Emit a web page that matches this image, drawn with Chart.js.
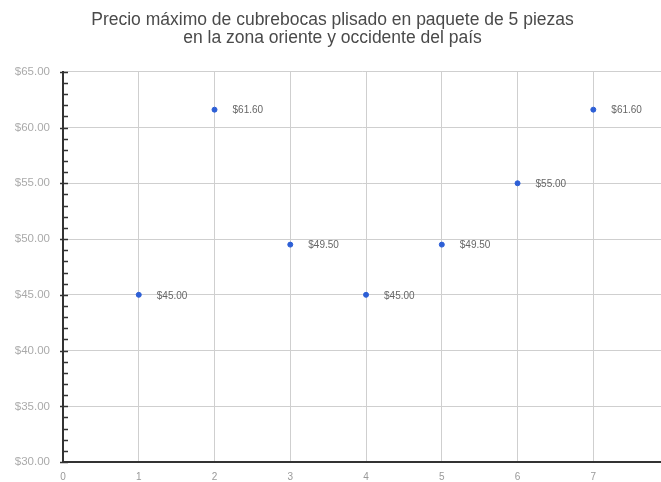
<!DOCTYPE html>
<html>
<head>
<meta charset="utf-8">
<script src="https://cdn.jsdelivr.net/npm/chart.js@4/dist/chart.umd.min.js"></script>
<style>
html,body{margin:0;padding:0;background:#fff;overflow:hidden;}
#wrap{width:661px;height:482px;overflow:hidden;}
</style>
</head>
<body>
<div id="wrap"><canvas id="c" width="665" height="482"></canvas></div>
<script>
const titleLines = ["Precio máximo de cubrebocas plisado en paquete de 5 piezas", "en la zona oriente y occidente del país"];
const xValues = [1, 2, 3, 4, 5, 6, 7];
const prices = [45.00, 61.60, 49.50, 45.00, 49.50, 55.00, 61.60];
const priceLabels = ["$45.00", "$61.60", "$49.50", "$45.00", "$49.50", "$55.00", "$61.60"];
const yMin = 30, yMax = 65, yMajor = 5;
const xMin = 0, xMax = 7.9;

const pointLabelPlugin = {
  id: 'pointLabels',
  afterDatasetsDraw(chart) {
    const ctx = chart.ctx;
    const meta = chart.getDatasetMeta(0);
    ctx.save();
    ctx.font = '10px "Liberation Sans", Arial, sans-serif';
    ctx.fillStyle = '#666';
    ctx.textAlign = 'left';
    ctx.textBaseline = 'middle';
    meta.data.forEach((el, i) => {
      ctx.fillText(priceLabels[i], el.x + 18, el.y + 1);
    });
    ctx.restore();
  }
};

const minorTickPlugin = {
  id: 'minorTicks',
  afterDraw(chart) {
    const ctx = chart.ctx;
    const ys = chart.scales.y;
    const left = chart.chartArea.left;
    ctx.save();
    ctx.strokeStyle = '#333';
    ctx.lineWidth = 1.5;
    for (let v = yMin; v <= yMax; v++) {
      const py = Math.round(ys.getPixelForValue(v)) + 0.5;
      ctx.beginPath();
      ctx.moveTo(left - (v % yMajor === 0 ? 3 : 0), py);
      ctx.lineTo(left + 5, py);
      ctx.stroke();
    }
    ctx.restore();
  }
};

new Chart(document.getElementById('c'), {
  type: 'scatter',
  data: {
    datasets: [{
      data: xValues.map((x, i) => ({x: x, y: prices[i]})),
      backgroundColor: '#2d5fd6',
      borderColor: '#2d5fd6',
      pointRadius: 2.5,
      pointHoverRadius: 2.5
    }]
  },
  options: {
    responsive: false,
    devicePixelRatio: 1,
    animation: false,
    layout: {padding: 0},
    plugins: {
      legend: {display: false},
      tooltip: {enabled: false},
      title: {
        display: true,
        text: titleLines,
        color: '#4a4a4a',
        font: {family: '"Liberation Sans", Arial, sans-serif', size: 17.5, weight: 'normal', lineHeight: 1.05},
        padding: {top: 11, bottom: 24}
      }
    },
    scales: {
      x: {
        type: 'linear',
        min: xMin,
        max: xMax,
        afterFit(s) { s.height = 19; s.paddingRight = 0; s.paddingLeft = 0; },
        ticks: {
          stepSize: 1,
          autoSkip: false,
          maxRotation: 0,
          color: '#999',
          padding: 9,
          font: {family: '"Liberation Sans", Arial, sans-serif', size: 10},
          callback: v => Number.isInteger(v) ? String(v) : ''
        },
        grid: {
          color: c => Number.isInteger(c.tick.value) && c.tick.value !== 0 ? '#cfcfcf' : 'transparent',
          drawTicks: false
        },
        border: {color: '#333', width: 2}
      },
      y: {
        min: yMin,
        max: yMax,
        afterFit(s) { s.width = 63; },
        ticks: {
          stepSize: 1,
          autoSkip: false,
          color: '#aaa',
          padding: 13,
          font: {family: '"Liberation Sans", Arial, sans-serif', size: 11.5},
          callback: v => v % yMajor === 0 ? '$' + v.toFixed(2) : ''
        },
        grid: {
          color: c => (c.tick.value % yMajor === 0 && c.tick.value !== yMin) ? '#cfcfcf' : 'transparent',
          drawTicks: false
        },
        border: {color: '#333', width: 2}
      }
    }
  },
  plugins: [pointLabelPlugin, minorTickPlugin]
});
</script>
</body>
</html>
